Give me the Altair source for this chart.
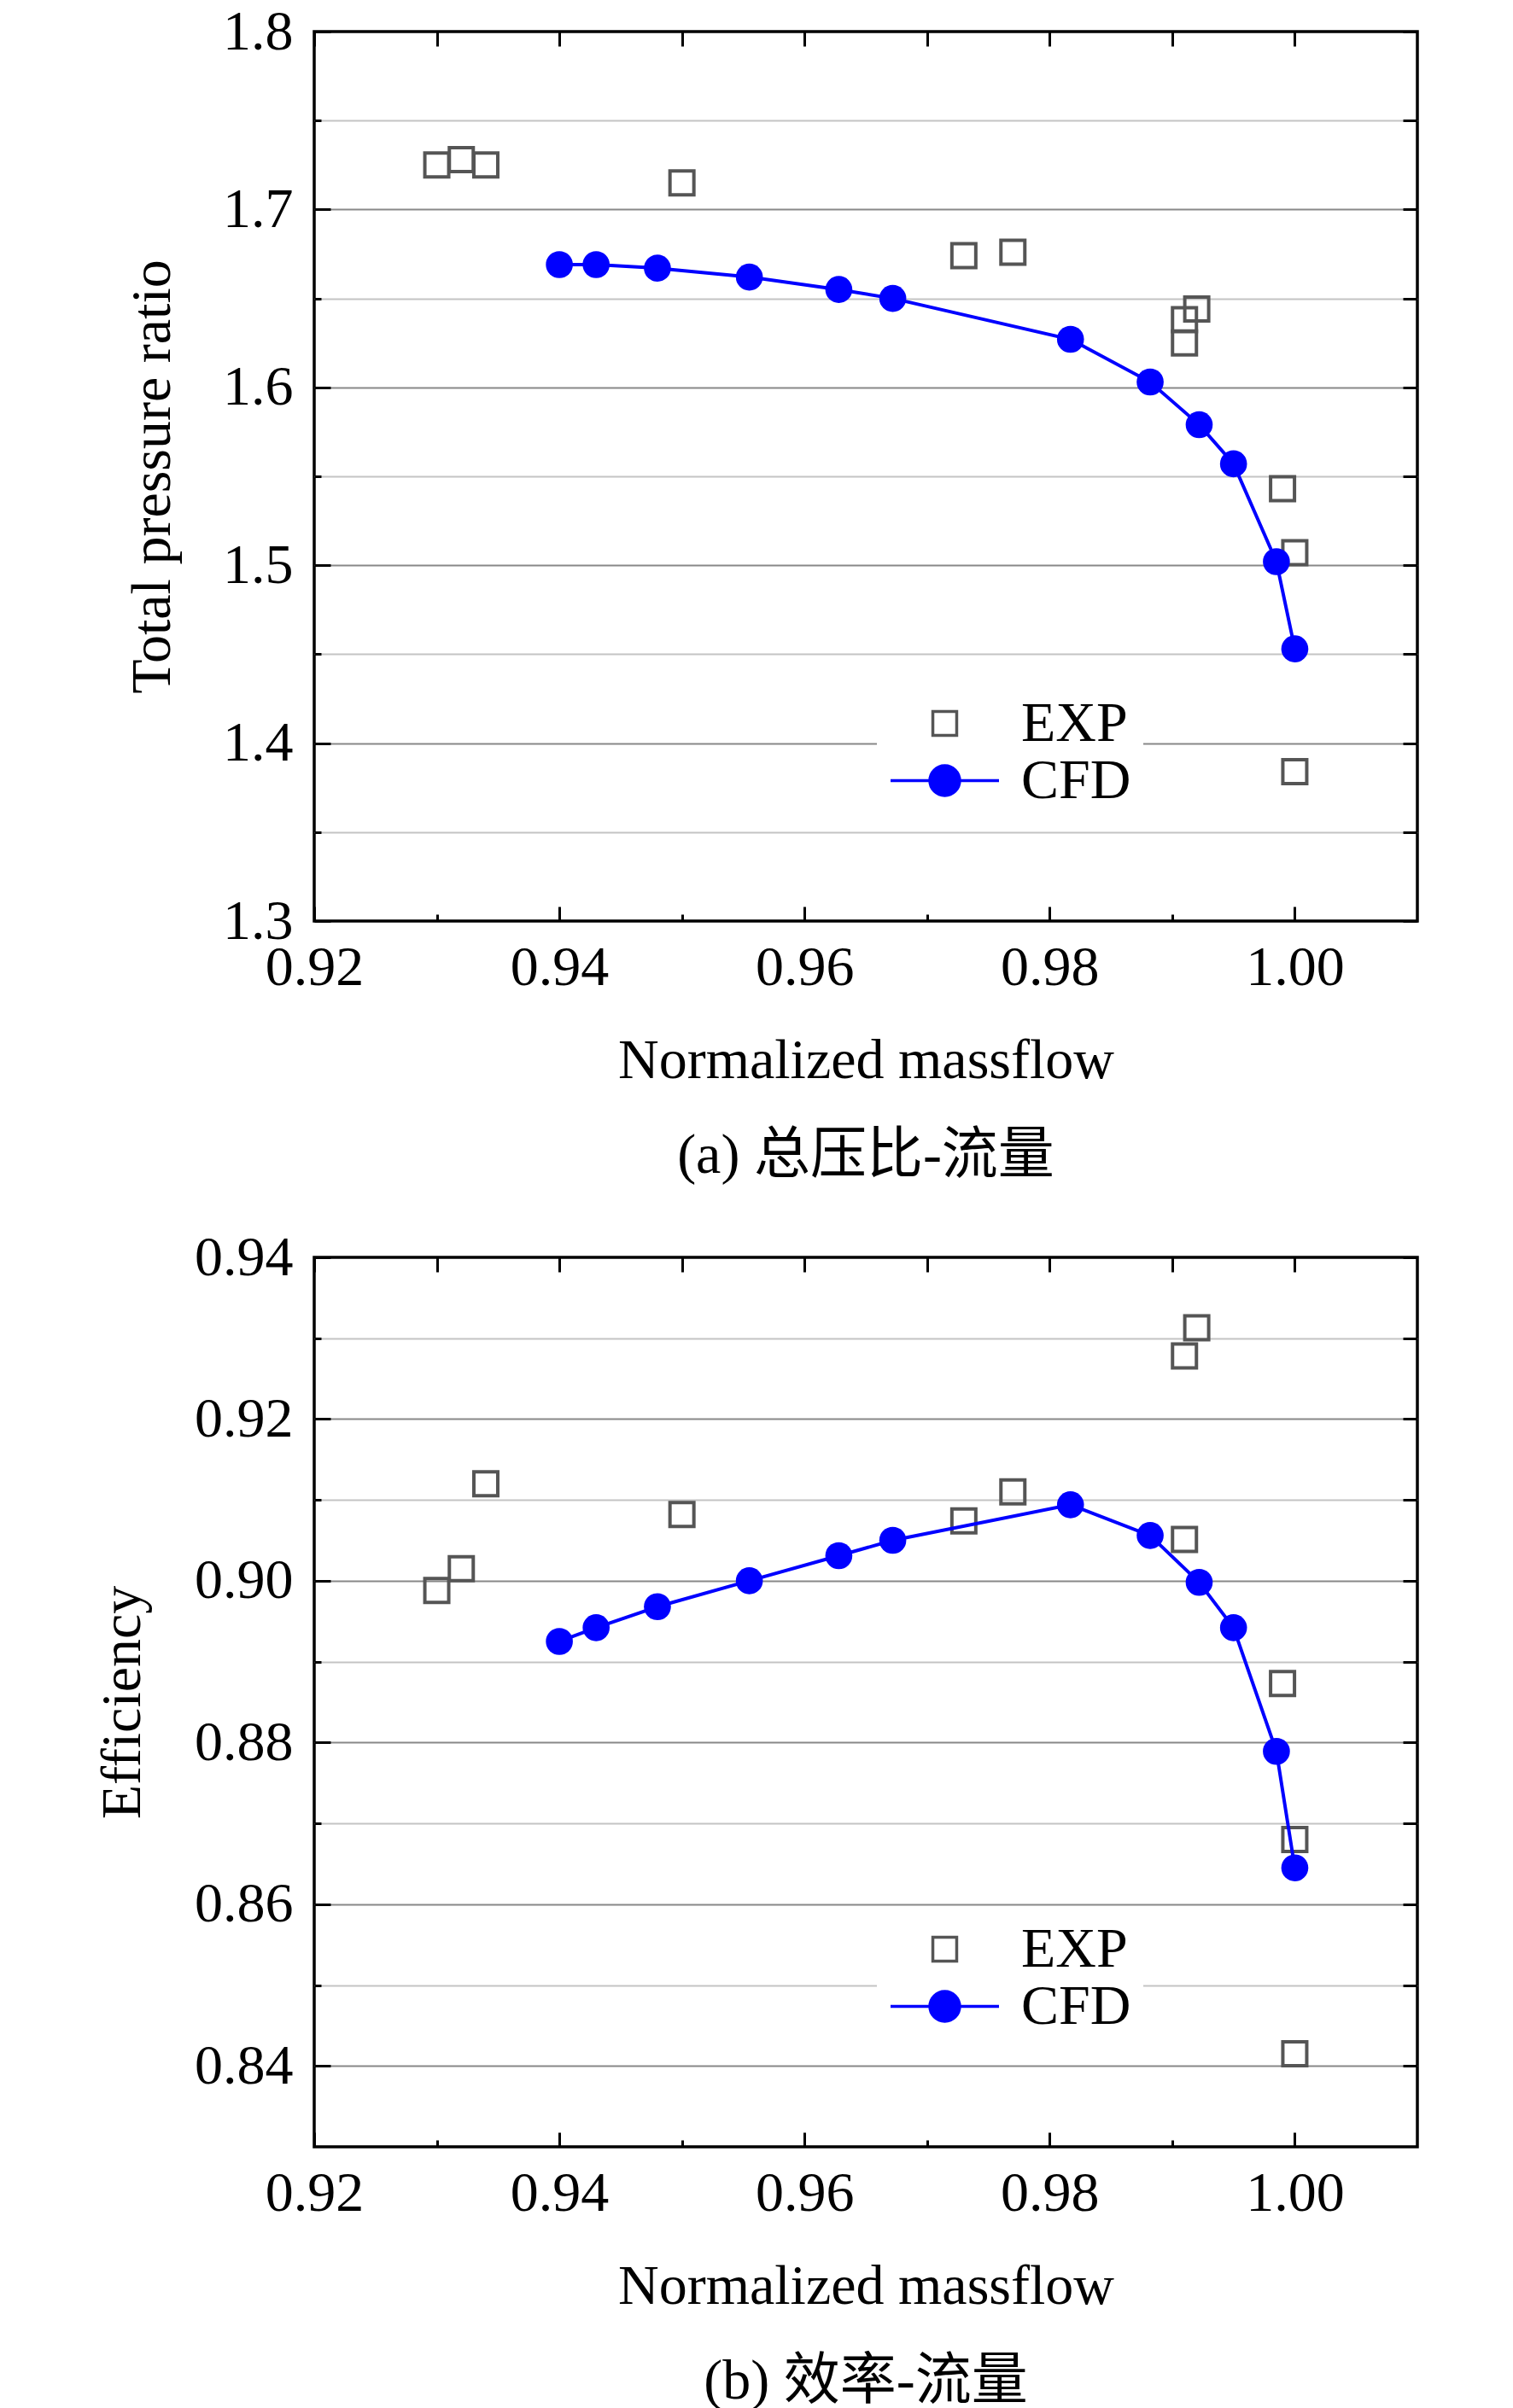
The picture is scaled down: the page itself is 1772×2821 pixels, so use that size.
import altair as alt
import pandas as pd

# ---------------- data ----------------
series_names = ["EXP", "CFD"]

cfd_flow = [0.9400, 0.9430, 0.9480, 0.9555, 0.9628, 0.9672, 0.9817, 0.9882, 0.9922, 0.9950, 0.9985, 1.0000]
cfd_pressure = [1.669, 1.669, 1.667, 1.662, 1.655, 1.650, 1.627, 1.603, 1.579, 1.557, 1.502, 1.453]
cfd_efficiency = [0.8925, 0.8942, 0.8968, 0.9000, 0.9031, 0.9050, 0.9094, 0.9056, 0.8998, 0.8942, 0.8789, 0.8645]

exp_flow_pr = [0.930, 0.932, 0.934, 0.950, 0.973, 0.977, 0.991, 0.991, 0.992, 0.999, 1.000, 1.000]
exp_pressure = [1.725, 1.728, 1.725, 1.715, 1.674, 1.676, 1.638, 1.625, 1.644, 1.543, 1.507, 1.384]
exp_flow_eff = [0.930, 0.932, 0.934, 0.950, 0.973, 0.977, 0.991, 0.992, 0.991, 0.999, 1.000, 1.000]
exp_efficiency = [0.8988, 0.9015, 0.9120, 0.9082, 0.9074, 0.9110, 0.9278, 0.9313, 0.9051, 0.8873, 0.8680, 0.8415]

x_domain = [0.92, 1.01]
x_labels = [0.92, 0.94, 0.96, 0.98, 1.00]
x_minor = [0.93, 0.95, 0.97, 0.99]

pr_domain = [1.3, 1.8]
pr_labels = [1.3, 1.4, 1.5, 1.6, 1.7, 1.8]
pr_minor = [1.35, 1.45, 1.55, 1.65, 1.75]
pr_grid_major = [1.4, 1.5, 1.6, 1.7]

eff_domain = [0.83, 0.94]
eff_labels = [0.84, 0.86, 0.88, 0.90, 0.92, 0.94]
eff_minor = [0.85, 0.87, 0.89, 0.91, 0.93]
eff_grid_major = [0.84, 0.86, 0.88, 0.90, 0.92]

# ---------------- style ----------------
FONT = "Liberation Serif"
CJK_FONT = "Liberation Serif, Noto Sans CJK SC"
FS = 66
W, H = 1292, 1042
BLUE = "#0000ff"
GREY = "#555555"

SQ_PATH = "M-0.22,-0.22L0.22,-0.22L0.22,0.22L-0.22,0.22Z"
CFD_PATH = ("M-1,0L1,0M-0.275,0A0.275,0.275,0,1,1,0.275,0"
            "A0.275,0.275,0,1,1,-0.275,0Z")


def panel(cfd_y, exp_x, exp_y, ydom, ylab, yminor, ygrid, yfmt, ytitle, ytitlepad, subtitle):
    cfd = pd.DataFrame({"flow": cfd_flow, "val": cfd_y})
    exp = pd.DataFrame({"flow": exp_x, "val": exp_y})
    ser = pd.DataFrame({"series": series_names,
                        "flow": [exp_x[0], cfd_flow[0]],
                        "val": [exp_y[0], cfd_y[0]]})

    xs = alt.Scale(domain=x_domain, nice=False, zero=False)
    ys = alt.Scale(domain=ydom, nice=False, zero=False)

    def X(axis):
        return alt.X("flow:Q", scale=xs, axis=axis)

    def Y(axis):
        return alt.Y("val:Q", scale=ys, axis=axis)

    def guide_layer(xaxis=None, yaxis=None):
        return alt.Chart(cfd).mark_point(opacity=0, size=1).encode(x=X(xaxis), y=Y(yaxis))

    def tick_axis(orient, values, size, offset):
        return alt.Axis(orient=orient, values=values, offset=offset, tickSize=size,
                        tickWidth=3, tickColor="black", labels=False, domain=False,
                        grid=False, title=None)

    def grid_axis(values, color):
        return alt.Axis(orient="left", values=values, grid=True, gridColor=color,
                        gridWidth=2, labels=False, ticks=False, domain=False, title=None)

    leg = alt.Legend(
        title=None, orient="none", legendX=659, legendY=763, direction="vertical",
        fillColor="white", padding=14, symbolSize=16129, symbolStrokeWidth=3.5,
        symbolOpacity=1, labelFont=FONT, labelFontSize=FS, labelColor="black",
        labelOffset=24, clipHeight=67, rowPadding=0, labelLimit=0,
    )

    layers = [
        guide_layer(yaxis=grid_axis(yminor, "#c4c4c4")),
        guide_layer(yaxis=grid_axis(ygrid, "#888888")),
        guide_layer(xaxis=alt.Axis(orient="bottom", values=x_labels, format=".2f",
                                   labelPadding=22, ticks=False, tickSize=0, domain=False,
                                   grid=False, labelFlush=False,
                                   title="Normalized massflow", titlePadding=44)),
        guide_layer(yaxis=alt.Axis(orient="left", values=ylab, format=yfmt,
                                   labelPadding=25, ticks=False, tickSize=0, domain=False,
                                   grid=False, labelFlush=False,
                                   title=ytitle, titlePadding=ytitlepad)),
        # inward ticks on all four sides
        guide_layer(xaxis=tick_axis("top", x_labels, 17, -H)),
        guide_layer(xaxis=tick_axis("top", x_minor, 8, -H)),
        guide_layer(xaxis=tick_axis("bottom", x_labels, 17, -H)),
        guide_layer(xaxis=tick_axis("bottom", x_minor, 17, -H)),
        guide_layer(yaxis=tick_axis("right", ylab, 19, -W)),
        guide_layer(yaxis=tick_axis("right", yminor, 8, -W)),
        guide_layer(yaxis=tick_axis("left", ylab + yminor, 17, -W)),
        # data
        alt.Chart(exp).mark_point(shape="square", filled=False, stroke=GREY,
                                  strokeWidth=4, size=784, opacity=1).encode(
            x=X(None), y=Y(None)),
        alt.Chart(cfd).mark_line(color=BLUE, strokeWidth=4).encode(
            x=X(None), y=Y(None)),
        alt.Chart(cfd).mark_circle(size=1000, color=BLUE, opacity=1).encode(
            x=X(None), y=Y(None)),
        # legend carrier (zero-size marks, legend only)
        alt.Chart(ser).mark_point(filled=True, size=0).encode(
            x=X(None), y=Y(None),
            shape=alt.Shape("series:N", scale=alt.Scale(domain=series_names, range=[SQ_PATH, CFD_PATH]), legend=leg),
            fill=alt.Fill("series:N", scale=alt.Scale(domain=series_names, range=["transparent", BLUE]), legend=leg),
            stroke=alt.Stroke("series:N", scale=alt.Scale(domain=series_names, range=[GREY, BLUE]), legend=leg),
        ),
    ]

    return alt.layer(*layers).resolve_axis(x="independent", y="independent").properties(
        width=W, height=H,
        title=alt.TitleParams(text=subtitle, orient="bottom", font=CJK_FONT, fontSize=FS,
                              fontWeight="normal", color="black", offset=47,
                              frame="group", anchor="middle"),
    )


p1 = panel(cfd_pressure, exp_flow_pr, exp_pressure, pr_domain, pr_labels, pr_minor,
           pr_grid_major, ".1f", "Total pressure ratio", 48, "(a) 总压比-流量")
p2 = panel(cfd_efficiency, exp_flow_eff, exp_efficiency, eff_domain, eff_labels, eff_minor,
           eff_grid_major, ".2f", "Efficiency", 50, "(b) 效率-流量")

chart = alt.vconcat(p1, p2, spacing=49).resolve_scale(
    x="independent", y="independent",
    shape="independent", fill="independent", stroke="independent",
).properties(
    padding={"left": 100, "top": -6, "right": 10, "bottom": 6}
).configure_view(
    stroke="black", strokeWidth=3.5
).configure_axis(
    labelFont=FONT, labelFontSize=FS, labelColor="black",
    titleFont=FONT, titleFontSize=FS, titleFontWeight="normal", titleColor="black",
)

chart.save("out.html", embed_options={"renderer": "svg", "actions": False})
